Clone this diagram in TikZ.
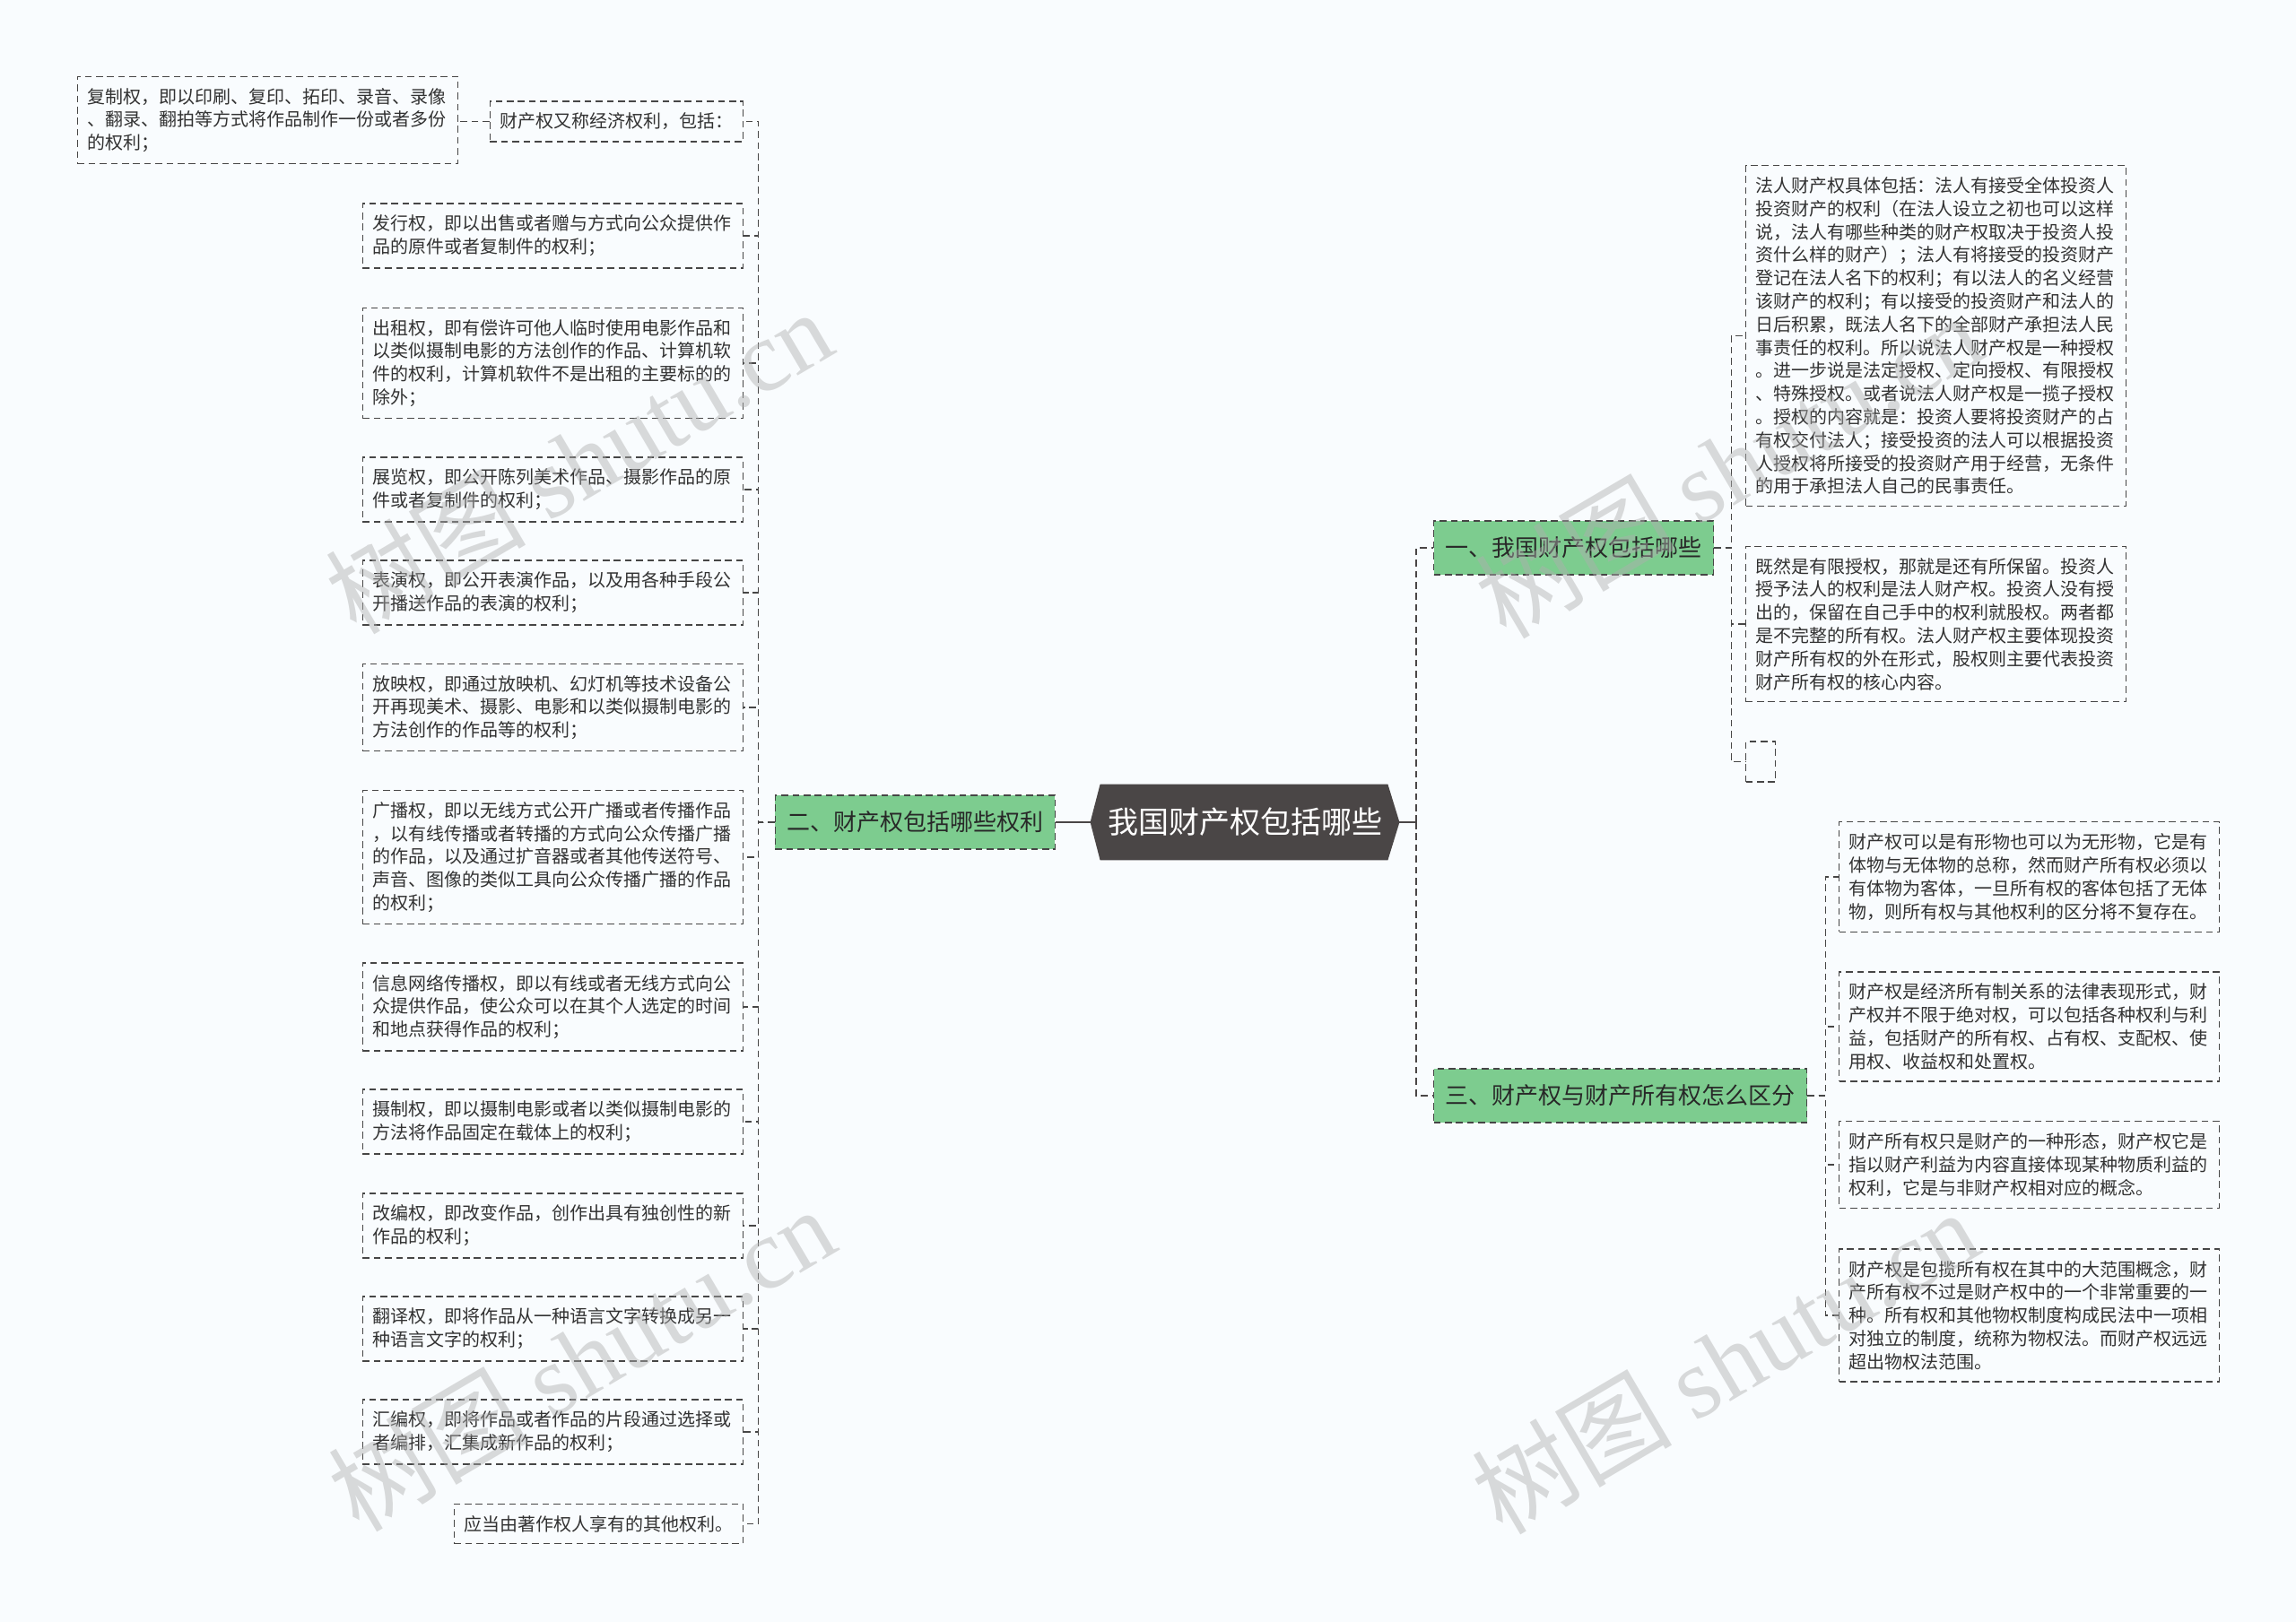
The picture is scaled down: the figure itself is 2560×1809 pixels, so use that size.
\documentclass[tikz,border=0pt]{standalone}
\usepackage{fontspec}
\setmainfont{Noto Sans CJK SC}
\newfontfamily\wmfont{Liberation Serif}
\usetikzlibrary{calc}
\pgfdeclarelayer{bottom}
\pgfdeclarelayer{mid}
\pgfsetlayers{bottom,mid,main}
\definecolor{bg}{RGB}{249,252,254}
\definecolor{txt}{RGB}{50,50,50}
\definecolor{bord}{RGB}{70,70,70}
\definecolor{grn}{RGB}{125,204,143}
\definecolor{hub}{RGB}{74,70,70}
\definecolor{gtxt}{RGB}{40,40,40}
\definecolor{wm}{RGB}{175,175,175}
\begin{document}
\begin{tikzpicture}[x=0.5pt,y=-0.5pt,
  dsh/.style={dash pattern=on 3.8pt off 2.4pt},
  leafbase/.style={draw=bord, line width=0.6pt, dsh, text=txt,
    font=\fontsize{10pt}{12.9pt}\selectfont, align=left,
    inner xsep=5.5pt, inner ysep=6.5pt},
  leaf/.style={leafbase, text width=201pt},
  branch/.style={draw=bord, line width=0.65pt, dsh, fill=grn, text=gtxt,
    font=\fontsize{13pt}{15pt}\selectfont, minimum height=30pt, inner xsep=6.5pt},
  hubnode/.style={font=\fontsize{17pt}{20pt}\selectfont, text=white,
    minimum width=172pt, minimum height=42pt, inner sep=0pt},
  conn/.style={draw=bord, line width=0.6pt, dsh},
  mainconn/.style={draw=hub, line width=1.2pt},
  maindash/.style={draw=hub, line width=1pt, dsh},
  wmark/.style={text=wm, opacity=0.45, rotate=30.5,
    font=\fontsize{56pt}{60pt}\selectfont, inner sep=0pt}
]
\begin{pgfonlayer}{bottom}
\fill[bg] (0,0) rectangle (2560,1809);
\end{pgfonlayer}
\useasboundingbox (0,0) rectangle (2560,1809);

% hub
\node[hubnode] (c) at (1388,917) {我国财产权包括哪些};
\begin{pgfonlayer}{mid}
\fill[hub] (c.west) -- ($(c.north west)+(11,0)$) -- ($(c.north east)+(-13,0)$)
  -- (c.east) -- ($(c.south east)+(-13,0)$) -- ($(c.south west)+(11,0)$) -- cycle;
\end{pgfonlayer}

% branches
\node[branch, anchor=east] (b2) at (1177,917) {二、财产权包括哪些权利};
\node[branch, anchor=west] (b1) at (1598,611) {一、我国财产权包括哪些};
\node[branch, anchor=west] (b3) at (1598,1222) {三、财产权与财产所有权怎么区分};

% left leaves
\node[leafbase, anchor=east] (L1) at (829,135.5) {财产权又称经济权利，包括：};
\node[leaf, anchor=east] (L0) at (511,134) {复制权，即以印刷、复印、拓印、录音、录像\\、翻录、翻拍等方式将作品制作一份或者多份\\的权利；};
\node[leaf, anchor=east] (L2) at (829,263) {发行权，即以出售或者赠与方式向公众提供作\\品的原件或者复制件的权利；};
\node[leaf, anchor=east] (L3) at (829,405) {出租权，即有偿许可他人临时使用电影作品和\\以类似摄制电影的方法创作的作品、计算机软\\件的权利，计算机软件不是出租的主要标的的\\除外；};
\node[leaf, anchor=east] (L4) at (829,546) {展览权，即公开陈列美术作品、摄影作品的原\\件或者复制件的权利；};
\node[leaf, anchor=east] (L5) at (829,661) {表演权，即公开表演作品，以及用各种手段公\\开播送作品的表演的权利；};
\node[leaf, anchor=east] (L6) at (829,789) {放映权，即通过放映机、幻灯机等技术设备公\\开再现美术、摄影、电影和以类似摄制电影的\\方法创作的作品等的权利；};
\node[leaf, anchor=east] (L7) at (829,956) {广播权，即以无线方式公开广播或者传播作品\\，以有线传播或者转播的方式向公众传播广播\\的作品，以及通过扩音器或者其他传送符号、\\声音、图像的类似工具向公众传播广播的作品\\的权利；};
\node[leaf, anchor=east] (L8) at (829,1123) {信息网络传播权，即以有线或者无线方式向公\\众提供作品，使公众可以在其个人选定的时间\\和地点获得作品的权利；};
\node[leaf, anchor=east] (L9) at (829,1251) {摄制权，即以摄制电影或者以类似摄制电影的\\方法将作品固定在载体上的权利；};
\node[leaf, anchor=east] (L10) at (829,1367) {改编权，即改变作品，创作出具有独创性的新\\作品的权利；};
\node[leaf, anchor=east] (L11) at (829,1482) {翻译权，即将作品从一种语言文字转换成另一\\种语言文字的权利；};
\node[leaf, anchor=east] (L12) at (829,1597) {汇编权，即将作品或者作品的片段通过选择或\\者编排，汇集成新作品的权利；};
\node[leafbase, anchor=east] (L13) at (829,1699.5) {应当由著作权人享有的其他权利。};

% right leaves of b1
\node[leaf, anchor=west] (R1) at (1946,374.5) {法人财产权具体包括：法人有接受全体投资人\\投资财产的权利（在法人设立之初也可以这样\\说，法人有哪些种类的财产权取决于投资人投\\资什么样的财产）；法人有将接受的投资财产\\登记在法人名下的权利；有以法人的名义经营\\该财产的权利；有以接受的投资财产和法人的\\日后积累，既法人名下的全部财产承担法人民\\事责任的权利。所以说法人财产权是一种授权\\。进一步说是法定授权、定向授权、有限授权\\、特殊授权。或者说法人财产权是一揽子授权\\。授权的内容就是：投资人要将投资财产的占\\有权交付法人；接受投资的法人可以根据投资\\人授权将所接受的投资财产用于经营，无条件\\的用于承担法人自己的民事责任。};
\node[leaf, anchor=west] (R2) at (1946,696) {既然是有限授权，那就是还有所保留。投资人\\授予法人的权利是法人财产权。投资人没有授\\出的，保留在自己手中的权利就股权。两者都\\是不完整的所有权。法人财产权主要体现投资\\财产所有权的外在形式，股权则主要代表投资\\财产所有权的核心内容。};
\node[leafbase, anchor=west, minimum width=16.5pt, minimum height=22.5pt, inner sep=0pt] (R3) at (1946,849.5) {};

% right leaves of b3
\node[leaf, anchor=west] (S1) at (2050,978) {财产权可以是有形物也可以为无形物，它是有\\体物与无体物的总称，然而财产所有权必须以\\有体物为客体，一旦所有权的客体包括了无体\\物，则所有权与其他权利的区分将不复存在。};
\node[leaf, anchor=west] (S2) at (2050,1145) {财产权是经济所有制关系的法律表现形式，财\\产权并不限于绝对权，可以包括各种权利与利\\益，包括财产的所有权、占有权、支配权、使\\用权、收益权和处置权。};
\node[leaf, anchor=west] (S3) at (2050,1299) {财产所有权只是财产的一种形态，财产权它是\\指以财产利益为内容直接体现某种物质利益的\\权利，它是与非财产权相对应的概念。};
\node[leaf, anchor=west] (S4) at (2050,1467) {财产权是包揽所有权在其中的大范围概念，财\\产所有权不过是财产权中的一个非常重要的一\\种。所有权和其他物权制度构成民法中一项相\\对独立的制度，统称为物权法。而财产权远远\\超出物权法范围。};

% connectors: hub
\draw[mainconn] (c.west) -- (b2.east);
\draw[mainconn] (c.east) -- ++(19,0) coordinate (cR);
\draw[maindash] (cR) |- (b1.west);
\draw[maindash] (cR) |- (b3.west);

% left connectors
\foreach \n in {L1,L2,L3,L4,L5,L6,L7,L8,L9,L10,L11,L12,L13}
  \draw[conn] (b2.west) -- ++(-18,0) |- (\n.east);
\draw[conn] (L1.west) -- (L1.west -| L0.east);

% right connectors
\foreach \n in {R1,R2,R3}
  \draw[conn] (b1.east) -- ++(19,0) |- (\n.west);
\foreach \n in {S1,S2,S3,S4}
  \draw[conn] (b3.east) -- ++(20,0) |- (\n.west);

% watermarks
\node[wmark] (w1) at (645,514) {树图 {\wmfont shutu.cn}};
\node[wmark] (w2) at (648,1515) {树图 {\wmfont shutu.cn}};
\node[wmark] (w3) at (1927,519) {树图 {\wmfont shutu.cn}};
\node[wmark] (w4) at (1923,1518) {树图 {\wmfont shutu.cn}};
\end{tikzpicture}
\end{document}
